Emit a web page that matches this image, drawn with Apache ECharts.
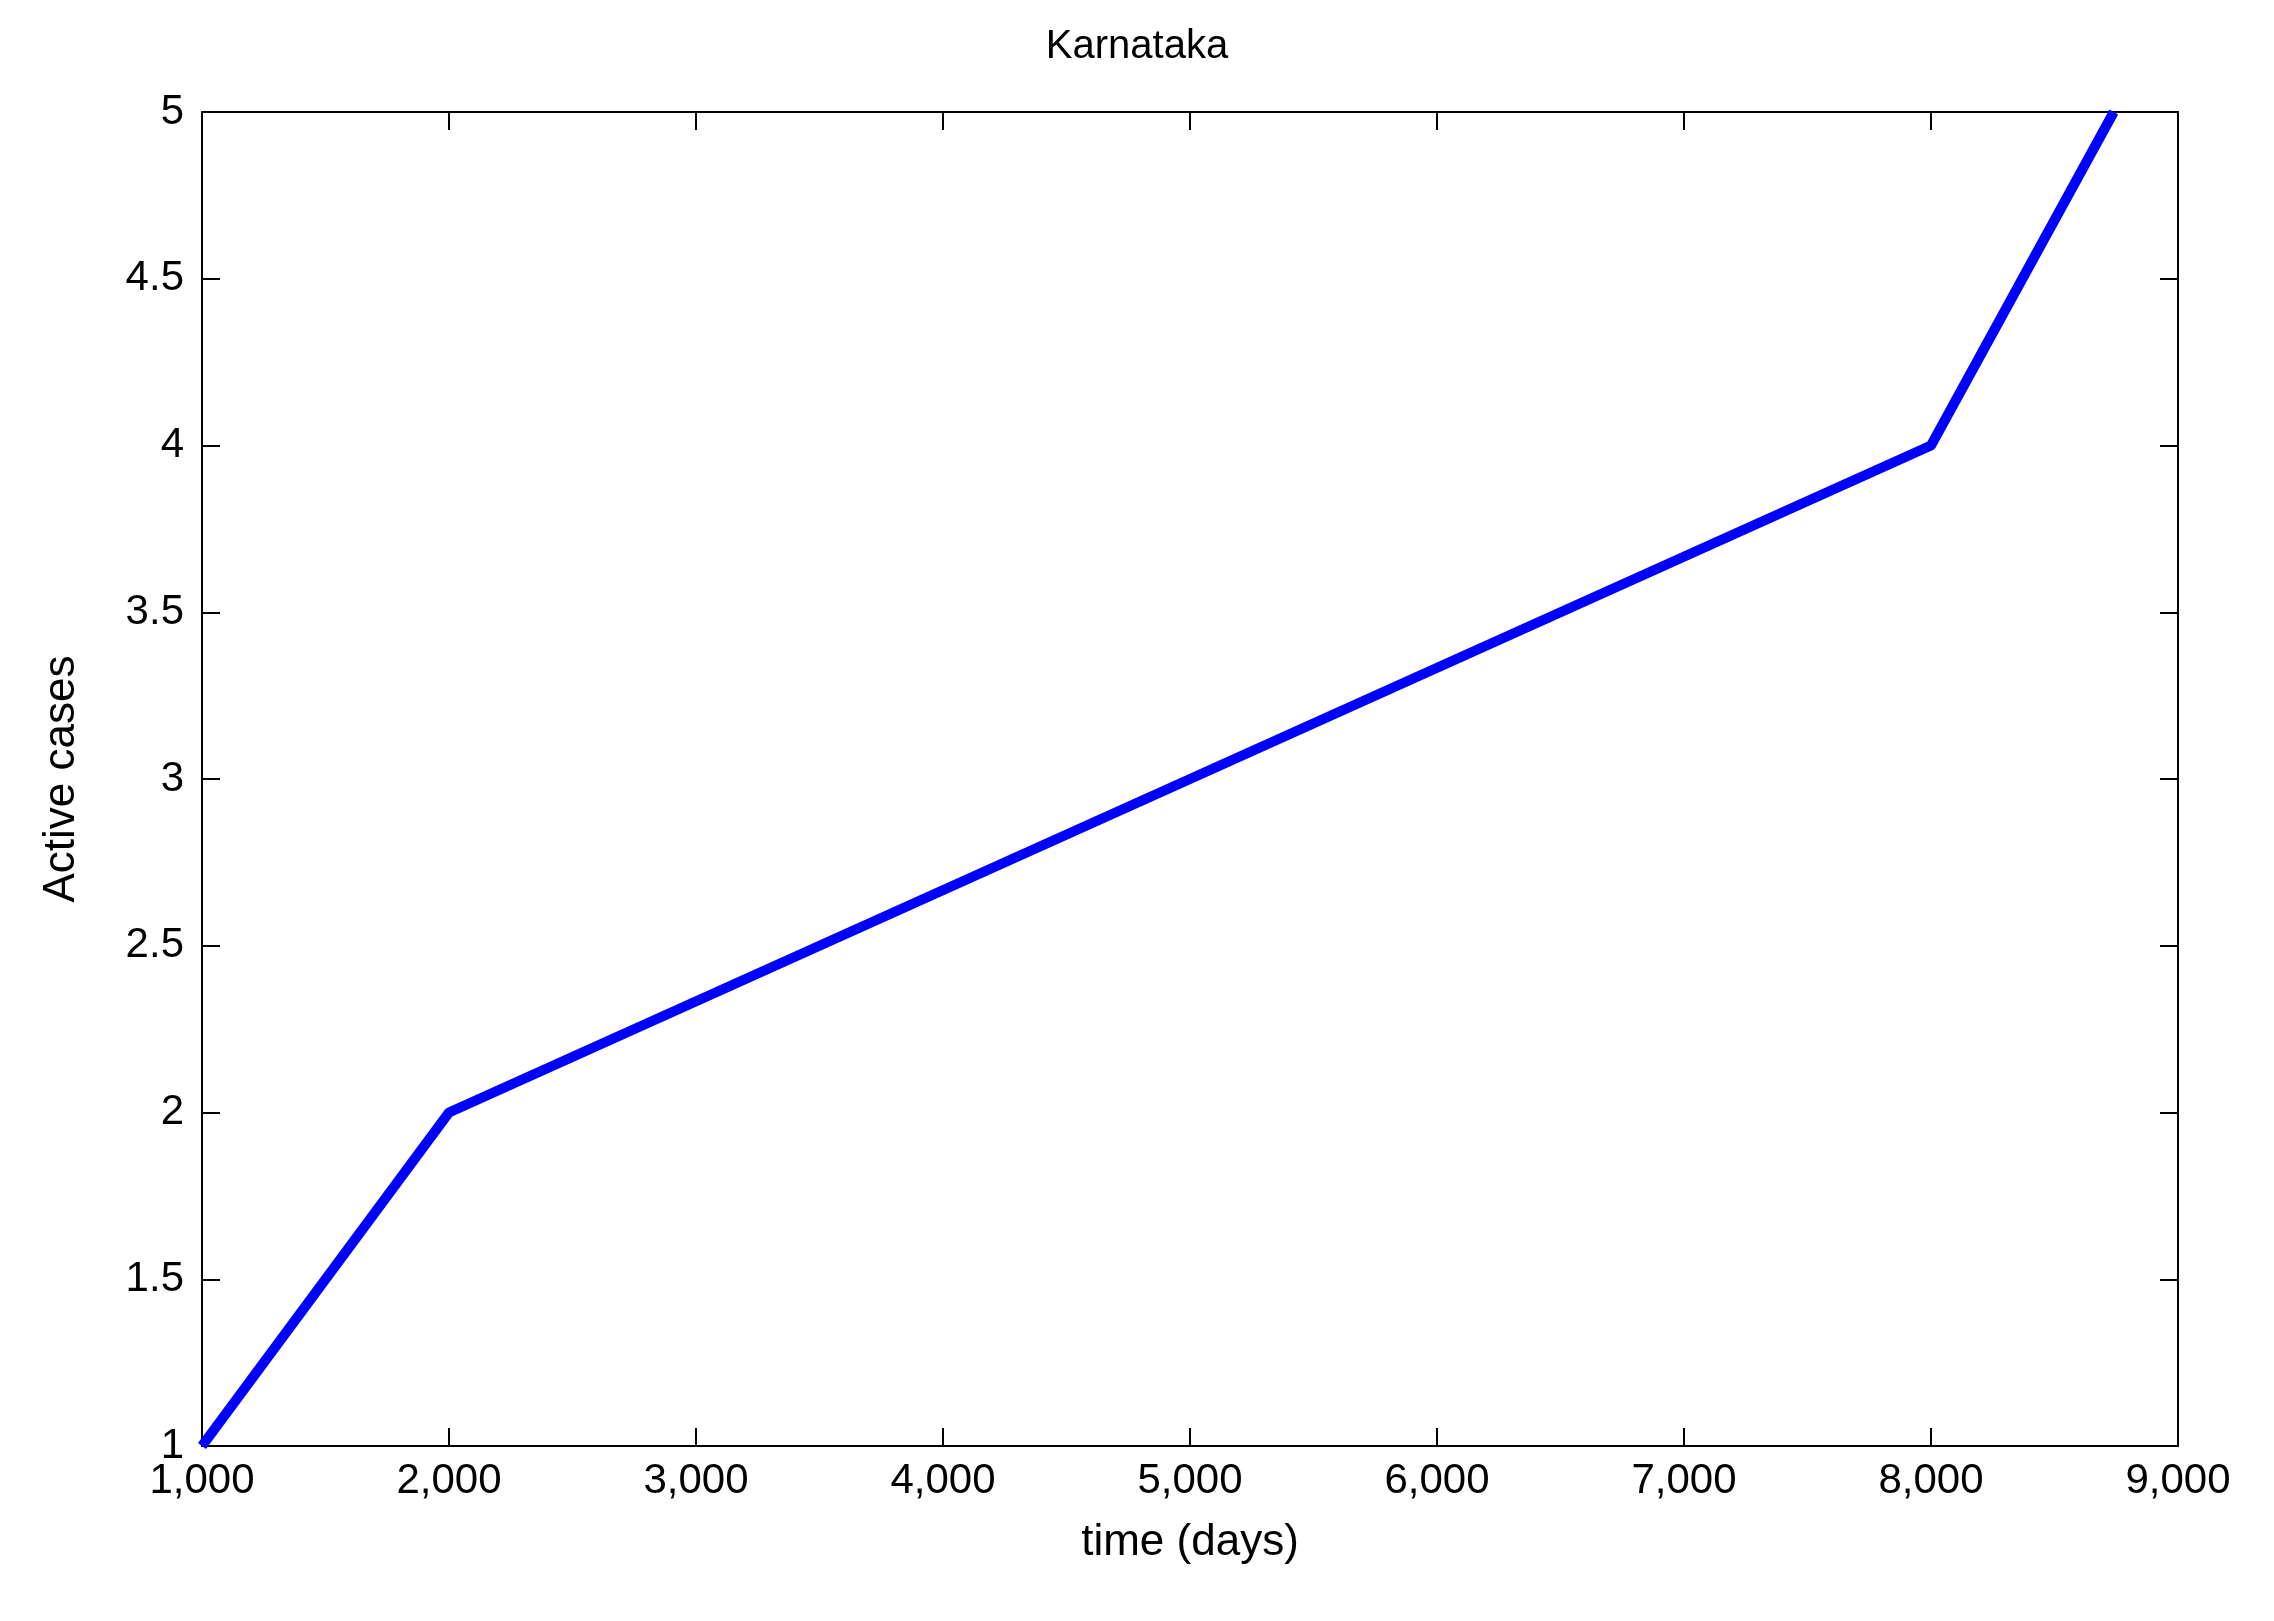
<!DOCTYPE html>
<html><head><meta charset="utf-8">
<script src="https://cdn.jsdelivr.net/npm/echarts@6/dist/echarts.min.js"></script>
<style>html,body{margin:0;padding:0;background:#fff}#c{width:2274px;height:1621px}</style>
</head><body><div id="c"></div>
<script>
const timeDays = [1000, 2000, 8000, 8740];
const activeCases = [1, 2, 4, 5];
const chart = echarts.init(document.getElementById('c'));
const font = 'Liberation Sans, Arial, sans-serif';
const axLine = {show:true, lineStyle:{color:'#000', width:2}};
const tick = {show:true, inside:true, length:18, lineStyle:{color:'#000', width:2}};
chart.setOption({
  backgroundColor:'#fff',
  animation:false,
  title:{text:'Karnataka', left:'center', top:22, textStyle:{fontFamily:font, fontSize:40, fontWeight:'normal', color:'#000'}},
  grid:{left:202, right:96, top:112, bottom:175},
  xAxis:[
    {type:'value', min:1000, max:9000, interval:1000, position:'bottom',
     name:'time (days)', nameLocation:'middle', nameGap:75, nameTextStyle:{fontFamily:font, fontSize:44, color:'#000'},
     axisLine:axLine, axisTick:tick, splitLine:{show:false},
     axisLabel:{fontFamily:font, fontSize:42, color:'#000', margin:14}},
    {type:'value', min:1000, max:9000, interval:1000, position:'top',
     axisLine:axLine, axisTick:tick, splitLine:{show:false}, axisLabel:{show:false}}
  ],
  yAxis:[
    {type:'value', min:1, max:5, interval:0.5, position:'left',
     name:'Active cases', nameLocation:'middle', nameGap:118, nameTextStyle:{fontFamily:font, fontSize:44, color:'#000'},
     axisLine:axLine, axisTick:tick, splitLine:{show:false},
     axisLabel:{fontFamily:font, fontSize:42, color:'#000', margin:18}},
    {type:'value', min:1, max:5, interval:0.5, position:'right',
     axisLine:axLine, axisTick:tick, splitLine:{show:false}, axisLabel:{show:false}}
  ],
  series:[{type:'line', data:timeDays.map((t,i)=>[t, activeCases[i]]), showSymbol:false,
    lineStyle:{color:'#0000ff', width:10}, clip:true}]
});
</script></body></html>
